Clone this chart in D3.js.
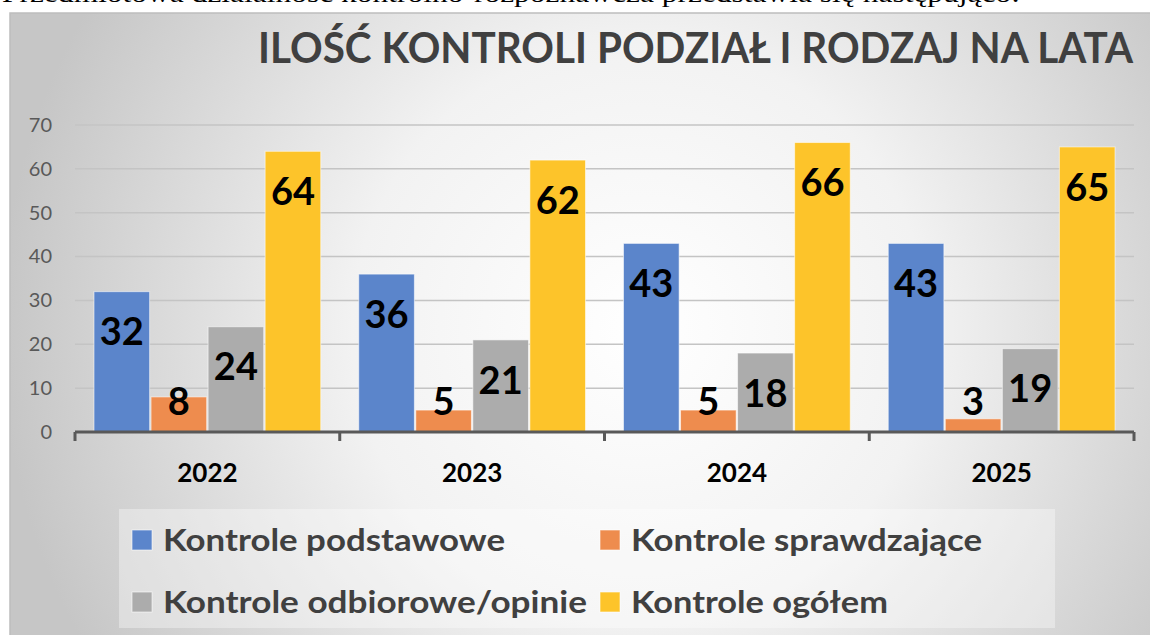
<!DOCTYPE html>
<html>
<head>
<meta charset="utf-8">
<script src="https://cdn.jsdelivr.net/npm/d3@7"></script>
<style>
  html, body { margin: 0; padding: 0; background: #fff; overflow: hidden; }
  svg { display: block; }
</style>
</head>
<body>
<div class="graph"></div>
<script>
const width = 1150;
const height = 635;

// data
const years = ["2022", "2023", "2024", "2025"];
const seriesNames = ["Kontrole podstawowe", "Kontrole sprawdzające", "Kontrole odbiorowe/opinie", "Kontrole ogółem"];
const podstawowe = [32, 36, 43, 43];
const sprawdzajace = [8, 5, 5, 3];
const odbiorowe = [24, 21, 18, 19];
const ogolem = [64, 62, 66, 65];
const yTicks = [0, 10, 20, 30, 40, 50, 60, 70];
const colors = ["#5b85cb", "#ee8c4e", "#acacac", "#fdc42a"];

const series = [podstawowe, sprawdzajace, odbiorowe, ogolem];
const rows = years.map((y, i) => ({ year: y, values: series.map(s => s[i]) }));

const font = "Lato, 'Open Sans', sans-serif";

const svg = d3.select(".graph")
  .append("svg")
  .attr("width", width)
  .attr("height", height);

const defs = svg.append("defs");
const grad = defs.append("radialGradient")
  .attr("id", "bg")
  .attr("gradientUnits", "userSpaceOnUse")
  .attr("cx", 640).attr("cy", 330).attr("r", 640);
grad.append("stop").attr("offset", "0%").attr("stop-color", "#ffffff");
grad.append("stop").attr("offset", "45%").attr("stop-color", "#f2f2f2");
grad.append("stop").attr("offset", "100%").attr("stop-color", "#c6c6c6");

// cropped line of document text above the chart (cut off in the source too)
svg.append("text")
  .attr("x", 2)
  .attr("y", 2)
  .attr("textLength", 1018)
  .attr("lengthAdjust", "spacingAndGlyphs")
  .style("font-family", "'Liberation Serif', serif")
  .style("font-size", "26px")
  .attr("fill", "#000")
  .text("Przedmiotowa działalność kontrolno-rozpoznawcza przedstawia się następująco:");

// chart card
svg.append("rect")
  .attr("x", 10).attr("y", 13)
  .attr("width", 1145).attr("height", 630)
  .attr("fill", "url(#bg)")
  .attr("stroke", "#bdbdbd")
  .attr("stroke-width", 1.5);

svg.append("text")
  .attr("x", 1133)
  .attr("y", 63)
  .attr("text-anchor", "end")
  .attr("textLength", 875)
  .attr("lengthAdjust", "spacingAndGlyphs")
  .style("font-family", font)
  .style("font-weight", 700)
  .style("font-size", "42px")
  .attr("fill", "#404040")
  .text("ILOŚĆ KONTROLI PODZIAŁ I RODZAJ NA LATA");

const plot = { left: 75, right: 1134, top: 125, bottom: 432 };

const y = d3.scaleLinear()
  .domain([0, 70])
  .range([plot.bottom, plot.top]);

const x0 = d3.scaleBand()
  .domain(years)
  .range([plot.left, plot.right])
  .padding(0);

const x1 = d3.scaleBand()
  .domain(d3.range(series.length))
  .range([19, x0.bandwidth() - 19])
  .paddingInner(0.025);

// gridlines
svg.append("g")
  .selectAll("line")
  .data(yTicks.filter(t => t > 0))
  .join("line")
  .attr("x1", plot.left).attr("x2", plot.right)
  .attr("y1", d => y(d)).attr("y2", d => y(d))
  .attr("stroke", "#c4c4c4")
  .attr("stroke-width", 1.5);

// y labels
const yAxis = d3.axisLeft(y).tickValues(yTicks).tickSize(0).tickPadding(0);
const gy = svg.append("g")
  .attr("transform", "translate(52,0)")
  .call(yAxis);
gy.select(".domain").remove();
gy.selectAll("text")
  .style("font-family", font)
  .style("font-size", "20px")
  .attr("fill", "#595959");

// bars
const groups = svg.append("g")
  .selectAll("g")
  .data(rows)
  .join("g")
  .attr("transform", d => `translate(${x0(d.year)},0)`);

groups.selectAll("rect")
  .data(d => d.values)
  .join("rect")
  .attr("x", (d, i) => x1(i))
  .attr("y", d => y(d))
  .attr("width", x1.bandwidth())
  .attr("height", d => plot.bottom - y(d))
  .attr("fill", (d, i) => colors[i])
  .attr("stroke", "rgba(255,255,255,0.55)")
  .attr("stroke-width", 1);

groups.selectAll("text")
  .data(d => d.values)
  .join("text")
  .attr("x", (d, i) => x1(i) + x1.bandwidth() / 2)
  .attr("y", d => Math.min(y(d) + 40, 401))
  .attr("dy", "0.36em")
  .attr("text-anchor", "middle")
  .style("font-family", font)
  .style("font-weight", 700)
  .style("font-size", "38px")
  .attr("fill", "#000")
  .text(d => d);

// x axis
const xAxis = d3.axisBottom(x0).tickSize(0).tickPadding(0);
const gx = svg.append("g")
  .attr("transform", `translate(0,${plot.bottom})`)
  .call(xAxis);
gx.select(".domain").remove();
gx.append("line")
  .attr("x1", plot.left).attr("x2", plot.right)
  .attr("stroke", "#595959").attr("stroke-width", 3);
gx.selectAll(".bound")
  .data(years.map(d => x0(d)).concat([plot.right]))
  .join("line")
  .attr("class", "bound")
  .attr("x1", d => d).attr("x2", d => d)
  .attr("y1", 0).attr("y2", 9)
  .attr("stroke", "#595959").attr("stroke-width", 3);
gx.selectAll(".tick text")
  .attr("y", 50)
  .attr("dy", 0)
  .style("font-family", font)
  .style("font-weight", 700)
  .style("font-size", "26px")
  .attr("fill", "#000");

// legend
svg.append("rect")
  .attr("x", 119).attr("y", 509)
  .attr("width", 936).attr("height", 119)
  .attr("fill", "rgba(255,255,255,0.35)");

const legendPos = [[132, 540], [600, 540], [132, 602], [600, 602]];
const legendWidths = [342, 351, 424, 257];
const legend = svg.append("g")
  .selectAll("g")
  .data(seriesNames)
  .join("g")
  .attr("transform", (d, i) => `translate(${legendPos[i][0]},${legendPos[i][1]})`);

legend.append("rect")
  .attr("x", 0).attr("y", -10)
  .attr("width", 20).attr("height", 20)
  .attr("fill", (d, i) => colors[i])
  .attr("stroke", "rgba(255,255,255,0.6)");

legend.append("text")
  .attr("x", 31)
  .attr("y", 0)
  .attr("dy", "0.36em")
  .attr("textLength", (d, i) => legendWidths[i])
  .attr("lengthAdjust", "spacingAndGlyphs")
  .style("font-family", font)
  .style("font-weight", 700)
  .style("font-size", "30px")
  .attr("fill", "#404040")
  .text(d => d);
</script>
</body>
</html>
